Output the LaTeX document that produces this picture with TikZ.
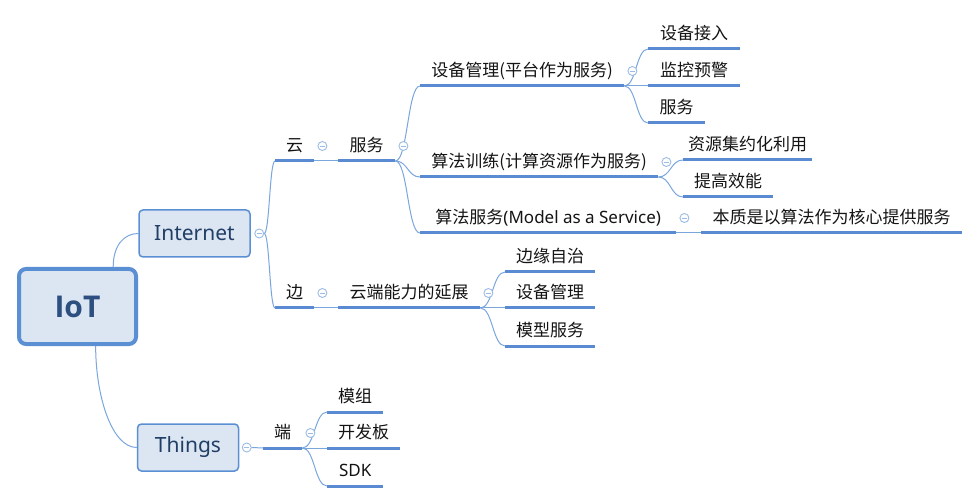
\documentclass[tikz,border=0pt]{standalone}
\usepackage{fontspec}
\setmainfont{Noto Sans CJK SC}
\newfontfamily\latin{Noto Sans}
\newfontfamily\latinbold{Open Sans}[UprightFont=*-Bold]
\usetikzlibrary{calc}

\definecolor{ulblue}{HTML}{5A8AD2}
\definecolor{lnblue}{HTML}{7AA6DE}
\definecolor{boxfill}{HTML}{DCE6F2}
\definecolor{boxline}{HTML}{5B8FD4}
\definecolor{boxtext}{HTML}{213E66}
\definecolor{roottext}{HTML}{2C4F80}
\definecolor{foldline}{HTML}{9BBCE6}

\tikzset{
  topic/.style={anchor=south west, inner xsep=0pt, inner ysep=9pt, text depth=0pt,
    font=\fontsize{17}{17}\selectfont, text=black!92},
  under/.style={draw=ulblue, line width=3pt},
  link/.style={draw=lnblue, line width=1pt},
  fold/.style={circle, draw=foldline, line width=0.9pt, fill=white, minimum size=9pt,
    inner sep=0pt,
    path picture={\draw[foldline, line width=0.9pt]
      ([xshift=2pt]path picture bounding box.west) --
      ([xshift=-2pt]path picture bounding box.east);}},
  box/.style={draw=boxline, fill=boxfill, rounded corners=4pt, text=boxtext, inner sep=0pt},
}

% topic text with its underline: name, x, y (underline start), underline length, text
\newcommand\mmtopic[5]{%
  \node[topic, minimum width=#4] (#1) at (#2,#3) {#5};
  \draw[under] (#1.south west) -- (#1.south east);}
% fold marker after a topic
\newcommand\mmfold[1]{\node[fold] (#1f) at ($(#1.south east)+(8,-15)$) {};}
% curved connector from a parent point to a child underline start
\newcommand\mmbranch[2]{%
  \path ($(#1)!0.5!(#2)$) coordinate (bm);
  \draw[link] (#1) .. controls (bm |- #1) and (bm |- #2) .. (#2);}

\begin{document}
\begin{tikzpicture}[x=1pt,y=-1pt]
\useasboundingbox (0,0) rectangle (979,502);
\fill[white] (0,0) rectangle (979,502);

% main boxes
\node[box, line width=4pt, rounded corners=7pt, minimum width=117pt, minimum height=75pt,
  text=roottext, font=\latinbold\fontsize{30}{30}\selectfont] (iot) at (77.5,306.5) {IoT};
\node[box, line width=1.5pt, minimum width=111pt, minimum height=47pt,
  font=\latin\fontsize{21}{21}\selectfont] (internet) at (194.5,233.5) {Internet};
\node[box, line width=1.5pt, minimum width=101pt, minimum height=47pt,
  font=\latin\fontsize{21}{21}\selectfont] (things) at (188,447.5) {Things};

\draw[link] ($(iot.north west)!0.795!(iot.north east)$) .. controls +(0,-22) and +(-14,0) .. (internet.west);
\draw[link] ($(iot.south west)!0.65!(iot.south east)$) .. controls +(0,50) and +(-25,0) .. (things.west);

% Internet branch
\mmtopic{c1}{275}{161}{39}{云}
\mmtopic{c2}{338}{161}{57}{服务}
\mmtopic{d1}{420}{86}{204}{设备管理(平台作为服务)}
\mmtopic{d2}{420}{177}{238}{算法训练(计算资源作为服务)}
\mmtopic{d3}{420}{233}{256}{算法服务{\latin(Model as a Service)}}
\mmtopic{e1}{648}{49}{92}{设备接入}
\mmtopic{e2}{648}{86}{92}{监控预警}
\mmtopic{e3}{648}{123}{57}{服务}
\mmtopic{f1}{683}{160}{129}{资源集约化利用}
\mmtopic{f2}{683}{197}{90}{提高效能}
\mmtopic{g1}{701}{233}{261}{本质是以算法作为核心提供服务}

\mmtopic{b1}{275}{308}{39}{边}
\mmtopic{b2}{338}{308}{142}{云端能力的延展}
\mmtopic{h1}{505}{272}{90}{边缘自治}
\mmtopic{h2}{505}{308}{90}{设备管理}
\mmtopic{h3}{505}{346}{90}{模型服务}

% Things branch
\mmtopic{t1}{263}{448}{39}{端}
\mmtopic{k1}{327}{412}{56}{模组}
\mmtopic{k2}{327}{448}{73}{开发板}
\mmtopic{k3}{327}{486}{56}{{\latin SDK}}

% fold markers on boxes
\node[fold] (internetf) at ($(internet.east)+(8.5,0)$) {};
\node[fold] (thingsf) at ($(things.east)+(7.5,0)$) {};

% connectors
\mmbranch{internetf.east}{c1.south west}
\mmbranch{internetf.east}{b1.south west}
\draw[link] (c1.south east) -- (c2.south west);
\mmbranch{c2.south east}{d1.south west}
\mmbranch{c2.south east}{d2.south west}
\mmbranch{c2.south east}{d3.south west}
\mmbranch{d1.south east}{e1.south west}
\mmbranch{d1.south east}{e2.south west}
\mmbranch{d1.south east}{e3.south west}
\mmbranch{d2.south east}{f1.south west}
\mmbranch{d2.south east}{f2.south west}
\draw[link] (d3.south east) -- (g1.south west);

\draw[link] (b1.south east) -- (b2.south west);
\mmbranch{b2.south east}{h1.south west}
\mmbranch{b2.south east}{h2.south west}
\mmbranch{b2.south east}{h3.south west}

\draw[link] (thingsf.east) -- (t1.south west);
\mmbranch{t1.south east}{k1.south west}
\mmbranch{t1.south east}{k2.south west}
\mmbranch{t1.south east}{k3.south west}

% fold markers on topics
\mmfold{c1}
\mmfold{c2}
\mmfold{d1}
\mmfold{d2}
\mmfold{d3}
\mmfold{b1}
\mmfold{b2}
\mmfold{t1}
\end{tikzpicture}
\end{document}
